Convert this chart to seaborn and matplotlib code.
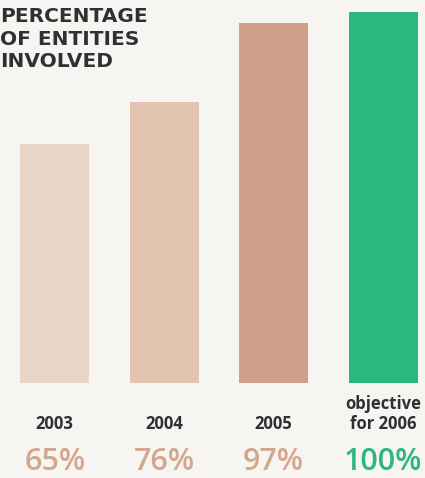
import pandas as pd
import seaborn as sns
import matplotlib.pyplot as plt
from matplotlib.transforms import blended_transform_factory

# data
years = ['2003', '2004', '2005', 'objective\nfor 2006']
values = [65, 76, 97, 100]
colors = ['#e8d5c6', '#e2c3b0', '#cfa089', '#2bb87e']
label_colors = ['#d4a68e', '#d4a68e', '#d4a68e', '#2bb87e']

df = pd.DataFrame({'year': years, 'pct': values})

bg = '#f7f5f1'
dark = '#2e3034'
W, H = 425, 478

fig = plt.figure(figsize=(W / 100, H / 100), dpi=100, facecolor=bg)
ax = fig.add_axes([0, 95 / H, 1, 383 / H])
ax.set_facecolor(bg)

sns.barplot(data=df, x='year', y='pct', hue='year', palette=colors,
            legend=False, width=0.63, saturation=1, ax=ax)

ax.set_xlim(-0.5, -0.5 + W / 109.5)
ax.set_ylim(1.5, 103.1)
ax.axis('off')

# x in data units, y in figure pixels from the top
tr = blended_transform_factory(ax.transData, fig.transFigure)

def py(px):
    return 1 - px / H

for i, (yr, v) in enumerate(zip(years, values)):
    lines = yr.split('\n')
    base = 429
    for k, line in enumerate(reversed(lines)):
        ax.text(i, py(base - 20 * k), line, ha='center', va='baseline',
                fontsize=12, fontweight='bold', color=dark,
                family='Open Sans', transform=tr, clip_on=False)
    ax.text(i, py(470), f'{v}%', ha='center', va='baseline', fontsize=22,
            fontweight='semibold', color=label_colors[i], family='Open Sans',
            transform=tr, clip_on=False)

# multi-line text with baseline alignment sits on the last line
fig.text(0.0, py(67), 'PERCENTAGE\nOF ENTITIES\nINVOLVED', ha='left',
         va='baseline', fontsize=14.5, fontweight='bold', color=dark,
         family='DejaVu Sans', linespacing=1.22)

fig.savefig('out.png', dpi=100, facecolor=bg)
